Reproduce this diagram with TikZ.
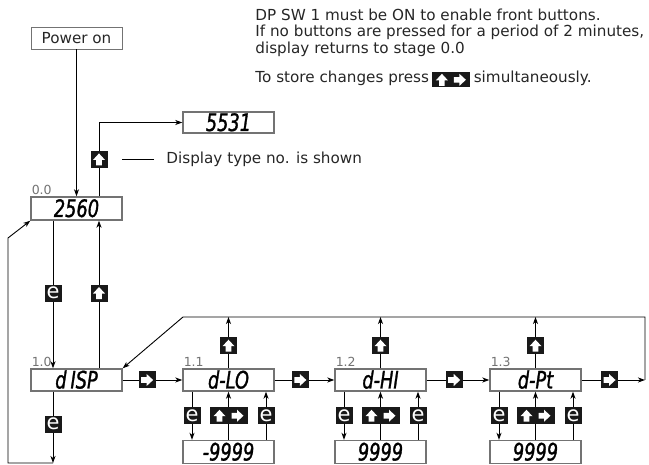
\documentclass[tikz,border=0pt]{standalone}
\usepackage{fontspec}
\setmainfont{DejaVu Sans}
\newfontfamily\lcdfont{DejaVu Sans}[FakeStretch=0.74, FakeBold=1.2]
\usepackage{tikz}
\usetikzlibrary{arrows.meta,positioning}

\begin{document}
\begin{tikzpicture}[x=1pt, y=-1pt, node distance=72pt, line width=0.9pt,
    >={Stealth[length=7pt,width=5pt,inset=2pt]},
    every node/.style={font=\fontsize{15.2}{16.3}\selectfont, inner sep=0pt, text=black!85},
    stage/.style={draw=black!55, line width=1.4pt, rectangle, minimum width=91pt, minimum height=23pt,
        text height=17pt, text depth=0pt, text=black, font=\lcdfont\itshape\fontsize{24}{24}\selectfont},
    stagelbl/.style={anchor=south west, inner sep=1pt, text=black!55, font=\fontsize{12.5}{12.5}\selectfont},
    key/.style={fill=black!90, minimum width=17pt, minimum height=17pt},
    ekey/.style={key, text=white, text height=11pt, text depth=0pt, font=\fontsize{21}{21}\selectfont},
    upkey/.style={key, path picture={\fill[white, shift={(path picture bounding box.center)}]
        (0,-6) -- (6,0.5) -- (2.8,0.5) -- (2.8,6) -- (-2.8,6) -- (-2.8,0.5) -- (-6,0.5) -- cycle;}},
    rkey/.style={key, path picture={\fill[white, shift={(path picture bounding box.center)}]
        (6,0) -- (-0.5,-6) -- (-0.5,-2.8) -- (-6,-2.8) -- (-6,2.8) -- (-0.5,2.8) -- (-0.5,6) -- cycle;}},
    urkey/.style={key, minimum width=38pt, path picture={
        \fill[white, shift={(path picture bounding box.center)}]
        (-9,-6) -- (-3,0.5) -- (-6.2,0.5) -- (-6.2,6) -- (-11.8,6) -- (-11.8,0.5) -- (-15,0.5) -- cycle
        (15,0) -- (8.5,-6) -- (8.5,-2.8) -- (3,-2.8) -- (3,2.8) -- (8.5,2.8) -- (8.5,6) -- cycle;}}]
    \useasboundingbox (0,0) rectangle (649,465);

    % Notes
    \node[anchor=base west] (note1) at (255,20.7) {DP SW 1 must be ON to enable front buttons.};
    \node[anchor=base west] (note2) at (255,37) {If no buttons are pressed for a period of 2 minutes,};
    \node[anchor=base west] (note3) at (255,53.3) {display returns to stage 0.0};
    \node[anchor=base west] (note4) at (255,83) {To store changes press};
    \node[urkey, minimum height=15pt, right=2pt of note4, yshift=-1pt] (storekey) {};
    \node[right=3pt of storekey.east |- note4.base, anchor=base west] (note5) {simultaneously.};

    % Power on and stage 0.0
    \node[draw=black!55, line width=0.8pt, minimum width=91pt, minimum height=22pt] (power) at (76.5,38) {Power on};
    \node[stage, minimum height=21pt] (typeno) at (228.5,122.5) {5531};
    \node[stage] (disp0) at (76.5,208.5) {2560};
    \node[stagelbl] (lbl00) at (disp0.north west) {0.0};
    \node[anchor=west] (typenote) at (166,159) {Display type no. is shown};

    % Stage 1.x
    \node[stage, minimum height=22pt] (disp) at (76.5,380) {d\hspace{4pt}ISP};
    \node[stage, minimum height=22pt, right of=disp, node distance=152pt] (dlo) {d-LO};
    \node[stage, minimum height=22pt, right of=dlo, node distance=152pt] (dhi) {d-HI};
    \node[stage, minimum height=22pt, right of=dhi, node distance=155pt] (dpt) {d-Pt};
    \node[stagelbl] (lbl10) at (disp.north west) {1.0};
    \node[stagelbl] (lbl11) at (dlo.north west) {1.1};
    \node[stagelbl] (lbl12) at (dhi.north west) {1.2};
    \node[stagelbl] (lbl13) at (dpt.north west) {1.3};

    % Values
    \node[stage, below of=dlo] (vlo) {-9999};
    \node[stage, below of=dhi] (vhi) {9999};
    \node[stage, below of=dpt] (vpt) {9999};

    % Loop corners
    \coordinate (lpbot) at (53,463);
    \coordinate (lpleft) at (8,238);
    \coordinate (lpright) at (645,380);
    \coordinate (lptop) at (645,317);
    \coordinate (lpdiag) at (183,317);

    % Stage 0.0 connections
    \draw[->] (power) -- (disp0);
    \draw[->] ([xshift=22.5pt]disp0.north) |- node[upkey, pos=0.25] (k0) {} (typeno.west);
    \draw ([xshift=-12pt]typenote.west) -- ([xshift=-44pt]typenote.west);
    \draw[->] ([xshift=-23.5pt]disp0.south) -- node[ekey, pos=0.49] (e0) {e} ([xshift=-23.5pt]disp.north);
    \draw[->] ([xshift=22.5pt]disp.north) -- node[upkey, pos=0.51] (u0) {} ([xshift=22.5pt]disp0.south);
    \draw[->] ([xshift=-23.5pt]disp.south) -- node[ekey, pos=0.46] (e1) {e} (lpbot);
    \draw[->] (lpbot) -| (lpleft) -- (disp0.south west);

    % Stage 1.x chain
    \draw[->] (disp) -- node[rkey, pos=0.41] (r0) {} (dlo);
    \draw[->] (dlo) -- node[rkey, pos=0.43] (r1) {} (dhi);
    \draw[->] (dhi) -- node[rkey, pos=0.44] (r2) {} (dpt);
    \draw[->] (dpt) -- node[rkey, pos=0.44] (r3) {} (lpright);
    \draw[->] (lpright) -- (lptop) -- (lpdiag) -- (disp.north east);
    \draw[->] (dlo.north) -- node[upkey, pos=0.44] (u1) {} (dlo.north |- lptop);
    \draw[->] (dhi.north) -- node[upkey, pos=0.44] (u2) {} (dhi.north |- lptop);
    \draw[->] (dpt.north) -- node[upkey, pos=0.44] (u3) {} (dpt.north |- lptop);

    % Value editing
    \draw[->] ([xshift=-36.5pt]dlo.south) -- node[ekey] (e11) {e} ([xshift=-36.5pt]vlo.north);
    \draw[->] (vlo.north) -- node[urkey] (k11) {} (dlo.south);
    \draw[->] ([xshift=37.5pt]vlo.north) -- node[ekey] (f11) {e} ([xshift=37.5pt]dlo.south);
    \draw[->] ([xshift=-36.5pt]dhi.south) -- node[ekey] (e12) {e} ([xshift=-36.5pt]vhi.north);
    \draw[->] (vhi.north) -- node[urkey] (k12) {} (dhi.south);
    \draw[->] ([xshift=37.5pt]vhi.north) -- node[ekey] (f12) {e} ([xshift=37.5pt]dhi.south);
    \draw[->] ([xshift=-36.5pt]dpt.south) -- node[ekey] (e13) {e} ([xshift=-36.5pt]vpt.north);
    \draw[->] (vpt.north) -- node[urkey] (k13) {} (dpt.south);
    \draw[->] ([xshift=37.5pt]vpt.north) -- node[ekey] (f13) {e} ([xshift=37.5pt]dpt.south);
\end{tikzpicture}
\end{document}
